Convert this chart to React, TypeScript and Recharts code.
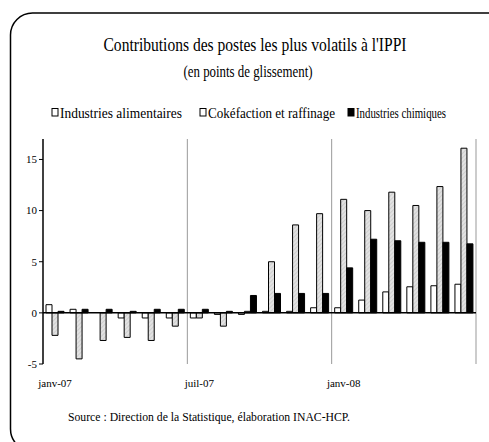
import { BarChart, Bar, XAxis, YAxis, ReferenceLine } from "recharts";

const MONTHS = [
  "janv-07", "févr-07", "mars-07", "avr-07", "mai-07", "juin-07",
  "juil-07", "août-07", "sept-07", "oct-07", "nov-07", "déc-07",
  "janv-08", "févr-08", "mars-08", "avr-08", "mai-08", "juin-08",
];
const ALIMENTAIRES = [0.8, 0.35, 0, -0.5, -0.5, -0.5, -0.5, -0.15, -0.15, 0.15, 0.15, 0.5, 0.5, 1.25, 2.05, 2.55, 2.65, 2.8];
const COKEFACTION = [-2.2, -4.5, -2.7, -2.4, -2.7, -1.3, -0.5, -1.3, 0.15, 5.0, 8.6, 9.7, 11.1, 10.0, 11.8, 10.5, 12.35, 16.1];
const CHIMIQUES = [0.15, 0.35, 0.35, 0.15, 0.35, 0.35, 0.35, 0.15, 1.7, 1.9, 1.9, 1.9, 4.4, 7.2, 7.05, 6.9, 6.9, 6.75];
const Y_TICKS = [-5, 0, 5, 10, 15];
const GRID_AT = [6, 12, 18];

const SERIES = [
  { key: "alim", name: "Industries alimentaires", fill: "#ffffff", width: 122 },
  { key: "coke", name: "Cokéfaction et raffinage", fill: "url(#hatch)", width: 127 },
  { key: "chim", name: "Industries chimiques", fill: "#000000", width: 90 },
];

const data = MONTHS.map((m, i) => ({
  month: m,
  idx: i + 0.5,
  alim: ALIMENTAIRES[i],
  coke: COKEFACTION[i],
  chim: CHIMIQUES[i],
}));

const SERIF = "Liberation Serif, Times New Roman, serif";
const LEGEND_X = [52, 200, 348];

export default function App() {
  return (
    <div style={{ position: "fixed", left: 0, top: 0, width: 489, height: 442, overflow: "hidden", background: "#fff" }}>
      <svg width={489} height={442} style={{ position: "absolute", left: 0, top: 0, fontFamily: SERIF }}>
        <defs>
          <pattern id="hatch" width="3" height="3" patternUnits="userSpaceOnUse" patternTransform="rotate(45)">
            <rect width="3" height="3" fill="#e2e2e2" />
            <line x1="0" y1="0" x2="0" y2="3" stroke="#bdbdbd" strokeWidth="1" />
          </pattern>
        </defs>
        <rect x={10.5} y={13} width={520} height={438} rx={22} fill="none" stroke="#000" strokeWidth={1.5} />
        <text x={255} y={50.5} textAnchor="middle" style={{ fontFamily: SERIF, fontSize: 18 }} textLength={303} lengthAdjust="spacingAndGlyphs">
          Contributions des postes les plus volatils à l'IPPI
        </text>
        <text x={248} y={77} textAnchor="middle" style={{ fontFamily: SERIF, fontSize: 16 }} textLength={129} lengthAdjust="spacingAndGlyphs">
          (en points de glissement)
        </text>
        {SERIES.map((s, i) => (
          <g key={s.key}>
            <rect x={LEGEND_X[i]} y={108.5} width={6} height={7.5} fill={s.key === "chim" ? "#000" : "#fff"} stroke="#000" strokeWidth={1} />
            <text x={LEGEND_X[i] + 8} y={117.5} style={{ fontFamily: SERIF, fontSize: 14 }} textLength={s.width} lengthAdjust="spacingAndGlyphs">
              {s.name}
            </text>
          </g>
        ))}
        <text x={68} y={421} style={{ fontFamily: SERIF, fontSize: 13 }} textLength={282} lengthAdjust="spacingAndGlyphs">
          Source : Direction de la Statistique, élaboration INAC-HCP.
        </text>
      </svg>
      <div style={{ position: "absolute", left: 0, top: 0 }}>
        <BarChart
          width={489}
          height={442}
          data={data}
          margin={{ top: 139, right: 13, bottom: 60, left: 13 }}
          barCategoryGap="12.5%"
          barGap={0}
        >
          <XAxis
            dataKey="month"
            interval={5}
            axisLine={false}
            tickLine={false}
            height={18}
            tickMargin={9}
            tick={{ fontFamily: SERIF, fontSize: 11, fill: "#000" }}
          />
          <XAxis xAxisId="grid" dataKey="idx" type="number" domain={[0, 18]} allowDataOverflow hide />
          <YAxis
            domain={[-5, 17]}
            ticks={Y_TICKS}
            width={30}
            axisLine={{ stroke: "#000", strokeWidth: 1.5 }}
            tickLine={{ stroke: "#000" }}
            tickSize={4}
            tick={{ fontFamily: SERIF, fontSize: 11, fill: "#000" }}
            allowDataOverflow
          />
          {GRID_AT.map((g) => (
            <ReferenceLine key={g} xAxisId="grid" x={g} stroke="#999" strokeWidth={1} />
          ))}
          {SERIES.map((s) => (
            <Bar
              key={s.key}
              dataKey={s.key}
              name={s.name}
              fill={s.fill}
              stroke="#000"
              strokeWidth={1}
              isAnimationActive={false}
            />
          ))}
          <ReferenceLine y={0} stroke="#000" strokeWidth={1.5} />
        </BarChart>
      </div>
    </div>
  );
}
